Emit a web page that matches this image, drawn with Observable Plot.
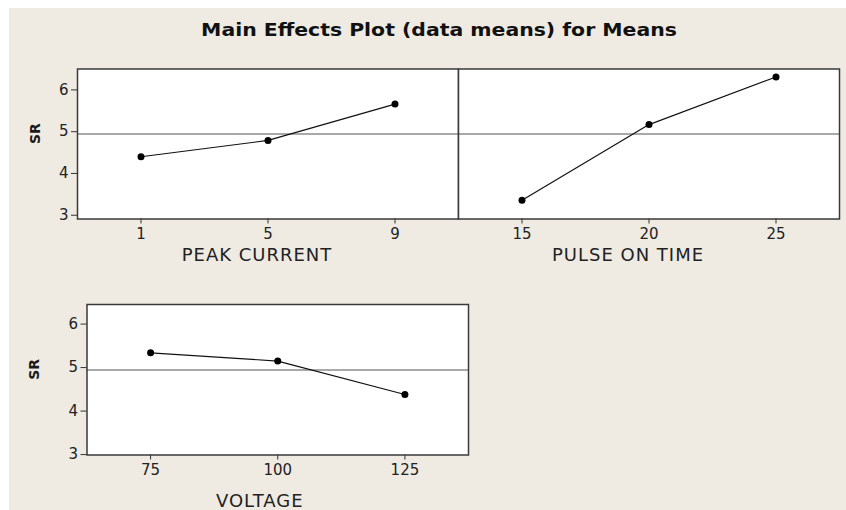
<!DOCTYPE html>
<html><head><meta charset="utf-8">
<script src="https://cdn.jsdelivr.net/npm/d3@7"></script>
<script src="https://cdn.jsdelivr.net/npm/@observablehq/plot@0.6"></script>
<style>
body{margin:0;background:#fff;}
#wrap{position:relative;width:846px;height:510px;overflow:hidden;background:#fff}
#bg{position:absolute;left:9px;top:8px;right:0;bottom:0;background:#efebe3}
#title{position:absolute;left:0;width:878px;top:20px;text-align:center;font-family:"DejaVu Sans";font-weight:bold;font-size:17px;color:#111;transform:scaleX(1.2);transform-origin:439px 0;}
.panel{position:absolute;left:0;top:0}
</style>
</head><body>
<div id="wrap"><div id="bg"></div><div id="title"></div></div>
<script>
const titleText = "Main Effects Plot (data means) for Means";
const yLabel = "SR";
const grandMean = 4.945;
const peakCurrentLevels = [1, 5, 9];
const peakCurrentMeans = [4.40, 4.79, 5.66];
const pulseOnLevels = [15, 20, 25];
const pulseOnMeans = [3.36, 5.17, 6.31];
const voltageLevels = [75, 100, 125];
const voltageMeans = [5.34, 5.15, 4.38];
const yTicks = [3, 4, 5, 6];

document.getElementById("title").textContent = titleText;

const W = 846, H = 510;
function panel(o) {
  const data = o.levels.map((l, i) => ({x: l, y: o.means[i]}));
  const marks = [
    Plot.frame({fill: "white", stroke: "none"}),
    Plot.ruleY([grandMean], {stroke: "#555", strokeWidth: 1.1}),
    Plot.line(data, {x: "x", y: "y", stroke: "#111", strokeWidth: 1.2}),
    Plot.dot(data, {x: "x", y: "y", r: 3.5, fill: "#000", stroke: "none"}),
    Plot.axisX({ticks: o.levels, tickFormat: "d", tickSize: 5, tickPadding: 4, fontSize: 15, label: null, stroke: "#333", fill: "#222"}),
    Plot.frame({stroke: "#3a3a3a", strokeWidth: 1.5}),
    Plot.text([o.xlabel], {frameAnchor: "bottom", dy: o.xlabDy, dx: o.xlabDx, fontSize: 18, lineAnchor: "middle", fill: "#222", className: "xlab"})
  ];
  if (o.yaxis) {
    marks.push(Plot.axisY({ticks: yTicks, tickFormat: "d", tickSize: 6, tickPadding: 3, fontSize: 15, label: null, stroke: "#333", fill: "#222"}));
    marks.push(Plot.text([yLabel], {frameAnchor: "left", dx: o.ylabDx, rotate: -90, fontSize: 14, fontWeight: "bold", fill: "#1a1a1a"}));
  }
  const svg = Plot.plot({
    width: W, height: H,
    marginLeft: o.box[0], marginTop: o.box[1], marginRight: W - o.box[2], marginBottom: H - o.box[3],
    style: {background: "transparent", fontFamily: "DejaVu Sans", fontSize: "15px", color: "#222", overflow: "visible"},
    x: {domain: o.xdomain, axis: null},
    y: {domain: o.ydomain, axis: null},
    marks
  });
  svg.classList.add("panel");
  svg.querySelectorAll(".xlab text").forEach(t => t.setAttribute("letter-spacing", "1px"));
  document.getElementById("wrap").appendChild(svg);
}

panel({levels: peakCurrentLevels, means: peakCurrentMeans, xlabel: "PEAK CURRENT",
  box: [77, 68.5, 458, 218.5], xdomain: [-1, 11], ydomain: [2.91, 6.5], yaxis: true,
  xlabDy: 36, xlabDx: -11, ylabDx: -42});
panel({levels: pulseOnLevels, means: pulseOnMeans, xlabel: "PULSE ON TIME",
  box: [458, 68.5, 839, 218.5], xdomain: [12.5, 27.5], ydomain: [2.91, 6.5], yaxis: false,
  xlabDy: 36, xlabDx: -21, ylabDx: -42});
panel({levels: voltageLevels, means: voltageMeans, xlabel: "VOLTAGE",
  box: [86.5, 304, 468, 454.5], xdomain: [62.5, 137.5], ydomain: [2.99, 6.45], yaxis: true,
  xlabDy: 46, xlabDx: -18, ylabDx: -52});
</script>
</body></html>
